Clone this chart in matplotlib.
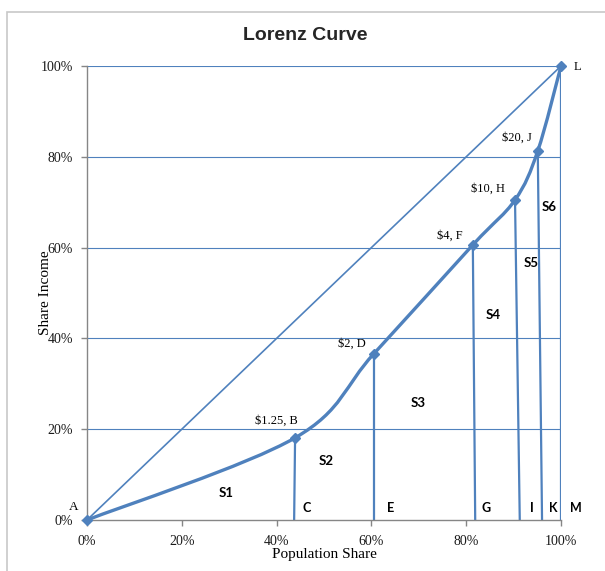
import numpy as np
import matplotlib
matplotlib.use('Agg')
import matplotlib.pyplot as plt
from matplotlib.path import Path
from matplotlib.patches import PathPatch, Rectangle


# Lorenz curve points (population share, income share)
pop_share = [0.0, 0.439, 0.605, 0.814, 0.903, 0.951, 1.0]
inc_share = [0.0, 0.181, 0.366, 0.606, 0.705, 0.813, 1.0]
point_labels = ['A', '$1.25, B', '$2, D', '$4, F', '$10, H', '$20, J', 'L']

# drop lines: bottom x of each vertical line (from B, D, F, H, J, L)
drop_bottom_x = [0.437, 0.605, 0.819, 0.913, 0.960, 1.0]
base_labels = ['C', 'E', 'G', 'I', 'K', 'M']
base_label_x = [0.464, 0.641, 0.842, 0.939, 0.983, 1.032]

# area labels
area_labels = ['S1', 'S2', 'S3', 'S4', 'S5', 'S6']
area_x = [0.293, 0.504, 0.698, 0.857, 0.937, 0.975]
area_y = [0.059, 0.130, 0.258, 0.452, 0.566, 0.689]

tick_vals = [0.0, 0.2, 0.4, 0.6, 0.8, 1.0]
tick_text = ['0%', '20%', '40%', '60%', '80%', '100%']

blue = '#4F81BD'
serif = 'Liberation Serif'


# Excel-style smoothed line through the points (cubic bezier)
def smoothPath(xs, ys):
    pts = np.column_stack([xs, ys])
    n = len(pts)
    verts = [pts[0]]
    codes = [Path.MOVETO]
    for i in range(n - 1):
        p0 = pts[i - 1] if i > 0 else pts[i]
        p1 = pts[i]
        p2 = pts[i + 1]
        p3 = pts[i + 2] if i + 2 < n else pts[i + 1]
        c1 = p1 + (p2 - p0) / 6.0
        c2 = p2 - (p3 - p1) / 6.0
        verts += [c1, c2, p2]
        codes += [Path.CURVE4, Path.CURVE4, Path.CURVE4]
    return Path(verts, codes)


fig = plt.figure(figsize=(6.05, 5.71), dpi=100)
ax = fig.add_axes([87/605, 51/571, 474/605, 454/571])

# frame around the chart
fig.patches.append(Rectangle((7/605, -0.1), 1.2, (559/571) + 0.1, transform=fig.transFigure,
                             fill=False, edgecolor='#c8c8c8', linewidth=1.2))

# gridlines
for v in tick_vals[1:]:
    ax.plot([0, 1], [v, v], color=blue, linewidth=0.8, zorder=1)

# line of equality
ax.plot([0, 1], [0, 1], color=blue, linewidth=1.2, zorder=2)

# drop lines
for k in range(len(drop_bottom_x)):
    ax.plot([pop_share[k+1], drop_bottom_x[k]], [inc_share[k+1], 0], color=blue, linewidth=1.6, zorder=2)

# Lorenz curve
ax.add_patch(PathPatch(smoothPath(pop_share, inc_share), facecolor='none', edgecolor=blue,
                       linewidth=2.4, zorder=3, clip_on=False))
ax.plot(pop_share, inc_share, linestyle='none', marker='D', markersize=5.5, color=blue,
        zorder=4, clip_on=False)

# point labels
label_off = [(-6, 5), (2, 8), (-6, 3), (-7, 2), (-7, 4), (-4, 5), (9, -5)]
for k in range(len(point_labels)):
    dx, dy = label_off[k]
    ax.annotate(point_labels[k], (pop_share[k], inc_share[k]), xytext=(dx, dy),
                textcoords='offset points', ha='right' if dx < 0 or k == 1 else 'left',
                va='bottom', fontsize=9.5 if k == 0 else 9, family=serif, annotation_clip=False)

for k in range(len(base_labels)):
    ax.text(base_label_x[k], 0.026, base_labels[k], ha='center', va='center', fontsize=9,
            fontweight='bold', family='Lato', clip_on=False)

for k in range(len(area_labels)):
    ax.text(area_x[k], area_y[k], area_labels[k], ha='center', va='center', fontsize=9.5,
            fontweight='bold', family='Lato')

ax.set_xlim(0, 1)
ax.set_ylim(0, 1)
ax.set_xticks(tick_vals)
ax.set_xticklabels(tick_text, family=serif, fontsize=10)
ax.set_yticks(tick_vals)
ax.set_yticklabels(tick_text, family=serif, fontsize=10)
ax.tick_params(axis='both', colors='#868686', length=4, width=1, labelcolor='#1a1a1a')
ax.tick_params(axis='x', pad=7)
ax.tick_params(axis='y', pad=6)
for s in ['top', 'right']:
    ax.spines[s].set_visible(False)
for s in ['left', 'bottom']:
    ax.spines[s].set_color('#868686')
    ax.spines[s].set_linewidth(1.0)

ax.set_xlabel('Population Share', family=serif, fontsize=11, labelpad=0)
ax.set_ylabel('Share Income', family=serif, fontsize=11, labelpad=-8)

fig.text(305/605, 1 - 35/571, 'Lorenz Curve', ha='center', va='center', fontsize=14,
         fontweight='bold', family='Liberation Sans', color='#262626')

fig.savefig('out.png', dpi=100)
